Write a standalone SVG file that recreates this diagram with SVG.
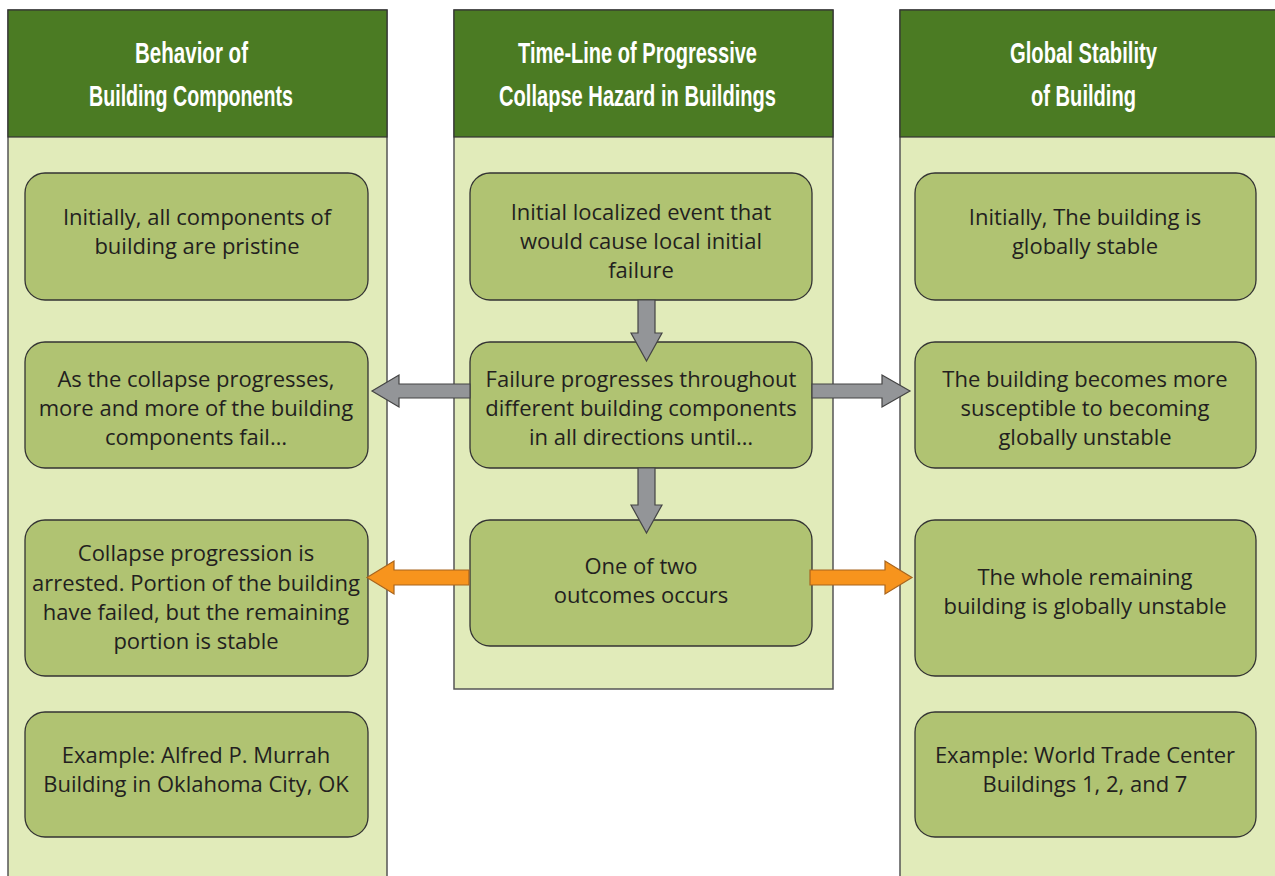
<svg xmlns="http://www.w3.org/2000/svg" width="1275" height="876" viewBox="0 0 1275 876">
<style>
.col{fill:#e1ebba;stroke:#555;stroke-width:1.5}
.hdr{fill:#4b7b23;stroke:#333;stroke-width:1.2}
.ht{font-family:"Liberation Sans",Arial,sans-serif;font-size:30px;font-weight:bold;fill:#fff;text-anchor:middle}
.box{fill:#b0c372;stroke:#333;stroke-width:1.3}
.t{font-family:"Open Sans","Liberation Sans",sans-serif;font-size:22px;fill:#231f20;text-anchor:middle}
.ga{fill:#939598;stroke:#444;stroke-width:1.2}
.oa{fill:#f7941d;stroke:#a8651e;stroke-width:1.2}
</style>
<rect width="1275" height="876" fill="#fff"/>
<g id="col-left">
<rect class="col" x="8" y="10" width="379" height="880"/>
<rect class="hdr" x="8" y="10" width="379" height="127"/>
<text class="ht" x="191.5" y="63" textLength="113" lengthAdjust="spacingAndGlyphs">Behavior of</text>
<text class="ht" x="191" y="106" textLength="204" lengthAdjust="spacingAndGlyphs">Building Components</text>
</g>
<g id="col-mid">
<rect class="col" x="454" y="10" width="379" height="679"/>
<rect class="hdr" x="454" y="10" width="379" height="127"/>
<text class="ht" x="637.5" y="63" textLength="239" lengthAdjust="spacingAndGlyphs">Time-Line of Progressive</text>
<text class="ht" x="637.5" y="106" textLength="277" lengthAdjust="spacingAndGlyphs">Collapse Hazard in Buildings</text>
</g>
<g id="col-right">
<rect class="col" x="900" y="10" width="390" height="880"/>
<rect class="hdr" x="900" y="10" width="390" height="127"/>
<text class="ht" x="1083.5" y="63" textLength="147" lengthAdjust="spacingAndGlyphs">Global Stability</text>
<text class="ht" x="1083.5" y="106" textLength="105" lengthAdjust="spacingAndGlyphs">of Building</text>
</g>
<g id="n-l1"><rect class="box" x="25" y="173" width="343" height="127" rx="20"/>
<text class="t" x="197" y="225">Initially, all components of</text>
<text class="t" x="197" y="254">building are pristine</text></g>
<g id="n-l2"><rect class="box" x="25" y="342" width="343" height="126" rx="20"/>
<text class="t" x="196" y="387">As the collapse progresses,</text>
<text class="t" x="196" y="416">more and more of the building</text>
<text class="t" x="196" y="445">components fail…</text></g>
<g id="n-l3"><rect class="box" x="25" y="520" width="343" height="156" rx="20"/>
<text class="t" x="196" y="561">Collapse progression is</text>
<text class="t" x="196" y="591">arrested. Portion of the building</text>
<text class="t" x="196" y="620">have failed, but the remaining</text>
<text class="t" x="196" y="649">portion is stable</text></g>
<g id="n-l4"><rect class="box" x="25" y="712" width="343" height="125" rx="20"/>
<text class="t" x="196" y="763">Example: Alfred P. Murrah</text>
<text class="t" x="196" y="792">Building in Oklahoma City, OK</text></g>
<g id="n-m1"><rect class="box" x="470" y="173" width="342" height="127" rx="20"/>
<text class="t" x="641" y="220">Initial localized event that</text>
<text class="t" x="641" y="249">would cause local initial</text>
<text class="t" x="641" y="278">failure</text></g>
<g id="n-m2"><rect class="box" x="470" y="342" width="342" height="126" rx="20"/>
<text class="t" x="641" y="387">Failure progresses throughout</text>
<text class="t" x="641" y="416">different building components</text>
<text class="t" x="641" y="445">in all directions until…</text></g>
<g id="n-m3"><rect class="box" x="470" y="520" width="342" height="126" rx="20"/>
<text class="t" x="641" y="574">One of two</text>
<text class="t" x="641" y="603">outcomes occurs</text></g>
<g id="n-r1"><rect class="box" x="915" y="173" width="341" height="127" rx="20"/>
<text class="t" x="1085" y="225">Initially, The building is</text>
<text class="t" x="1085" y="254">globally stable</text></g>
<g id="n-r2"><rect class="box" x="915" y="342" width="341" height="126" rx="20"/>
<text class="t" x="1085" y="387">The building becomes more</text>
<text class="t" x="1085" y="416">susceptible to becoming</text>
<text class="t" x="1085" y="445">globally unstable</text></g>
<g id="n-r3"><rect class="box" x="915" y="520" width="341" height="156" rx="20"/>
<text class="t" x="1085" y="585">The whole remaining</text>
<text class="t" x="1085" y="614">building is globally unstable</text></g>
<g id="n-r4"><rect class="box" x="915" y="712" width="341" height="125" rx="20"/>
<text class="t" x="1085" y="763">Example: World Trade Center</text>
<text class="t" x="1085" y="792">Buildings 1, 2, and 7</text></g>
<g id="connectors">
<path class="ga" d="M638,300 H655 V333 H662 L646.5,361 L631,333 H638 Z"/>
<path class="ga" d="M638,468 H655 V505 H662 L646.5,533 L631,505 H638 Z"/>
<path class="ga" d="M470,384 V398 H399 V407 L372,391 L399,375 V384 Z"/>
<path class="ga" d="M812,384 V398 H882 V407 L910,391 L882,375 V384 Z"/>
<path class="oa" d="M469,570 V585 H394 V594 L367,577.5 L394,561 V570 Z"/>
<path class="oa" d="M810,570 V585 H885 V594 L912,577.5 L885,561 V570 Z"/>
</g>
</svg>
